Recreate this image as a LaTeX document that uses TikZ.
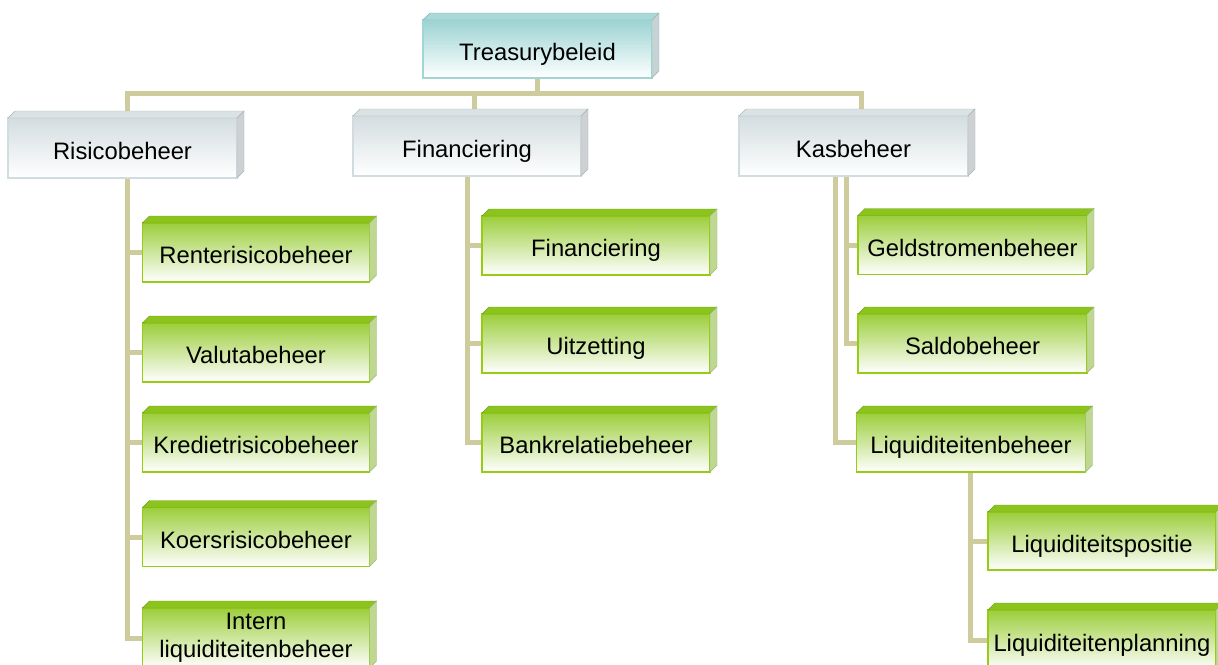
\documentclass[tikz,border=0pt]{standalone}
\usepackage{fontspec}
\setmainfont{Liberation Sans}
\usetikzlibrary{backgrounds}
\definecolor{linecol}{RGB}{206,204,156}
\definecolor{lonetop}{RGB}{211,221,224}
\definecolor{loneborder}{RGB}{208,220,223}
\definecolor{lonebevel}{RGB}{218,226,228}
\definecolor{loneside}{RGB}{205,209,211}
\definecolor{tealtop}{RGB}{156,211,211}
\definecolor{tealborder}{RGB}{160,214,214}
\definecolor{tealbevel}{RGB}{168,216,216}
\definecolor{tealside}{RGB}{196,212,212}
\definecolor{grtop}{RGB}{156,206,60}
\definecolor{grborder}{RGB}{150,204,20}
\definecolor{grbevel}{RGB}{140,196,30}
\definecolor{grside}{RGB}{190,216,146}
\newcommand\mybevel[3]{%
  \fill[#2,draw=#2!80!black,line width=0.4pt] (#1.north west) -- ([shift={(7,-7)}]#1.north west) -- ([shift={(7,-7)}]#1.north east) -- (#1.north east) -- cycle;
  \fill[#3,draw=#3!85!black,line width=0.4pt] (#1.north east) -- ([shift={(7,-7)}]#1.north east) -- ([shift={(7,-7)}]#1.south east) -- (#1.south east) -- cycle;
}
\tikzset{
  basebox/.style={rectangle, outer sep=0pt, inner sep=2pt, line width=1.2pt, align=center,
    font=\fontsize{23.8}{27.5}\selectfont, text=black},
  oneline/.style={text height=24pt, text depth=2pt},
  topbox/.style={basebox, oneline, draw=tealborder, top color=tealtop, bottom color=white, minimum width=229, minimum height=58},
  lonebox/.style={basebox, oneline, draw=loneborder, top color=lonetop, bottom color=white, minimum width=229, minimum height=60},
  grboxbase/.style={basebox, draw=grborder, top color=grtop, bottom color=white, minimum width=227, minimum height=59},
  grbox/.style={grboxbase, oneline},
  conn/.style={draw=linecol, line width=5pt}
}
\begin{document}
\begin{tikzpicture}[x=1pt,y=-1pt]
\useasboundingbox (0,0) rectangle (1218,664);
% top
\node[topbox] (tre) at (537.5,49) {Treasurybeleid};
% level 1
\node[lonebox] (ris) at (122.5,148) {Risicobeheer};
\node[lonebox, minimum width=228] (fin) at (467,146) {Financiering};
\node[lonebox] (kas) at (853.5,146) {Kasbeheer};
% left column
\node[grbox] (rent) at (256,252.5) {Renterisicobeheer};
\node[grbox] (valu) at (256,352.5) {Valutabeheer};
\node[grbox] (kred) at (256,442.5) {Kredietrisicobeheer};
\node[grbox] (koer) at (256,537) {Koersrisicobeheer};
\node[grboxbase, minimum height=60] (intr) at (256,638) {Intern\\liquiditeitenbeheer};
% middle column
\node[grbox, minimum width=228] (fint) at (596,245.5) {Financiering};
\node[grbox, minimum width=228] (uitz) at (596,343.5) {Uitzetting};
\node[grbox, minimum width=228] (bank) at (596,442.5) {Bankrelatiebeheer};
% right column
\node[grbox, minimum width=229] (geld) at (972.5,245) {Geldstromenbeheer};
\node[grbox, minimum width=229] (sald) at (972.5,343.5) {Saldobeheer};
\node[grbox, minimum width=229] (liqb) at (971,442.5) {Liquiditeitenbeheer};
\node[grbox, minimum width=228, minimum height=58] (liqp) at (1102,541) {Liquiditeitspositie};
\node[grbox, minimum width=228, minimum height=60] (liqn) at (1102,640) {Liquiditeitenplanning};
% bevels
\mybevel{tre}{tealbevel}{tealside}
\foreach \n in {ris,fin,kas}{\mybevel{\n}{lonebevel}{loneside}}
\foreach \n in {rent,valu,kred,koer,intr,fint,uitz,bank,geld,sald,liqb,liqp,liqn}{\mybevel{\n}{grbevel}{grside}}
% connectors
\begin{scope}[on background layer]
\fill[white] (0,0) rectangle (1218,664);
\coordinate (hub) at (537.5,93);
\draw[conn] (tre.south) -- (hub);
\draw[conn] (hub) -| ([xshift=4.5]ris.north);
\draw[conn] (hub) -| ([xshift=7]fin.north);
\draw[conn] (hub) -| ([xshift=7.5]kas.north);
\foreach \n in {rent,valu,kred,koer,intr}{\draw[conn] ([xshift=4.5]ris.south) |- (\n.west);}
\foreach \n in {fint,uitz,bank}{\draw[conn] (fin.south) |- (\n.west);}
\draw[conn] ([xshift=-7.5]kas.south) |- (geld.west);
\draw[conn] ([xshift=-7.5]kas.south) |- (sald.west);
\draw[conn] ([xshift=-18.5]kas.south) |- (liqb.west);
\draw[conn] ([xshift=-1]liqb.south) |- (liqp.west);
\draw[conn] ([xshift=-1]liqb.south) |- (liqn.west);
\end{scope}
\end{tikzpicture}
\end{document}
